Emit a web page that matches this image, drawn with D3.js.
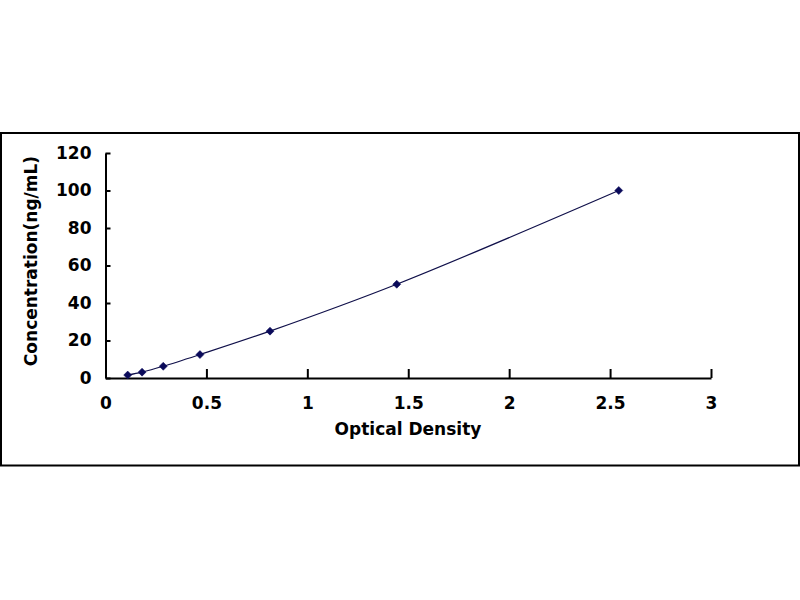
<!DOCTYPE html>
<html>
<head>
<meta charset="utf-8">
<script src="https://cdn.jsdelivr.net/npm/d3@7"></script>
<style>
  html, body { margin: 0; padding: 0; background: #fff; }
  svg { display: block; }
  text { font-family: "DejaVu Sans", "Liberation Sans", Arial, sans-serif; font-weight: bold; fill: #000; }
</style>
</head>
<body>
<svg id="chart" width="800" height="600"></svg>
<script>
// Data
const opticalDensity = [0.110, 0.181, 0.286, 0.468, 0.815, 1.443, 2.543];
const concentration  = [1.56, 3.125, 6.25, 12.5, 25, 50, 100];
const xTicks = [0, 0.5, 1, 1.5, 2, 2.5, 3];
const yTicks = [0, 20, 40, 60, 80, 100, 120];
const xTitle = "Optical Density";
const yTitle = "Concentration(ng/mL)";

const svg = d3.select("#chart");

// outer frame
svg.append("rect")
  .attr("x", 1).attr("y", 133)
  .attr("width", 798).attr("height", 332.5)
  .attr("fill", "#fff")
  .attr("stroke", "#000")
  .attr("stroke-width", 2);

const x = d3.scaleLinear().domain([0, 3]).range([105.5, 711]);
const y = d3.scaleLinear().domain([0, 120]).range([378, 153]);

const fontSize = 17;

// X axis
const gx = svg.append("g")
  .attr("transform", `translate(0,${y(0)})`)
  .call(d3.axisBottom(x)
    .tickValues(xTicks)
    .tickFormat(d3.format("~g"))
    .tickSizeInner(-9)
    .tickSizeOuter(0)
    .tickPadding(19));

// Y axis
const gy = svg.append("g")
  .attr("transform", `translate(${x(0)},0)`)
  .call(d3.axisLeft(y)
    .tickValues(yTicks)
    .tickFormat(d3.format("d"))
    .tickSizeInner(-5)
    .tickSizeOuter(0)
    .tickPadding(14));

[gx, gy].forEach(g => {
  g.select(".domain").attr("stroke", "#000").attr("stroke-width", 2);
  g.selectAll(".tick line").attr("stroke", "#000").attr("stroke-width", 2);
  g.selectAll(".tick text")
    .attr("font-size", fontSize)
    .attr("font-family", null)
    .attr("fill", "#000");
});
gx.attr("font-family", null);
gy.attr("font-family", null);
gx.attr("font-size", null);
gy.attr("font-size", null);

// axis titles
svg.append("text")
  .attr("x", 408).attr("y", 435)
  .attr("text-anchor", "middle")
  .attr("font-size", fontSize)
  .text(xTitle);

svg.append("text")
  .attr("transform", "translate(37,261) rotate(-90)")
  .attr("text-anchor", "middle")
  .attr("font-size", fontSize)
  .text(yTitle);

// curve
const pts = opticalDensity.map((d, i) => [d, concentration[i]]);
const line = d3.line()
  .x(d => x(d[0]))
  .y(d => y(d[1]))
  .curve(d3.curveCatmullRom.alpha(0.5));

svg.append("path")
  .datum(pts)
  .attr("d", line)
  .attr("fill", "none")
  .attr("stroke", "#10104a")
  .attr("stroke-width", 1.2);

// diamond markers
const sym = d3.symbol().type(d3.symbolSquare).size(32);
svg.append("g").selectAll("path")
  .data(pts)
  .join("path")
  .attr("d", sym)
  .attr("transform", d => `translate(${x(d[0])},${y(d[1])}) rotate(45)`)
  .attr("fill", "#0a0a5a")
  .attr("stroke", "#0a0a5a")
  .attr("stroke-width", 0.5);
</script>
</body>
</html>
